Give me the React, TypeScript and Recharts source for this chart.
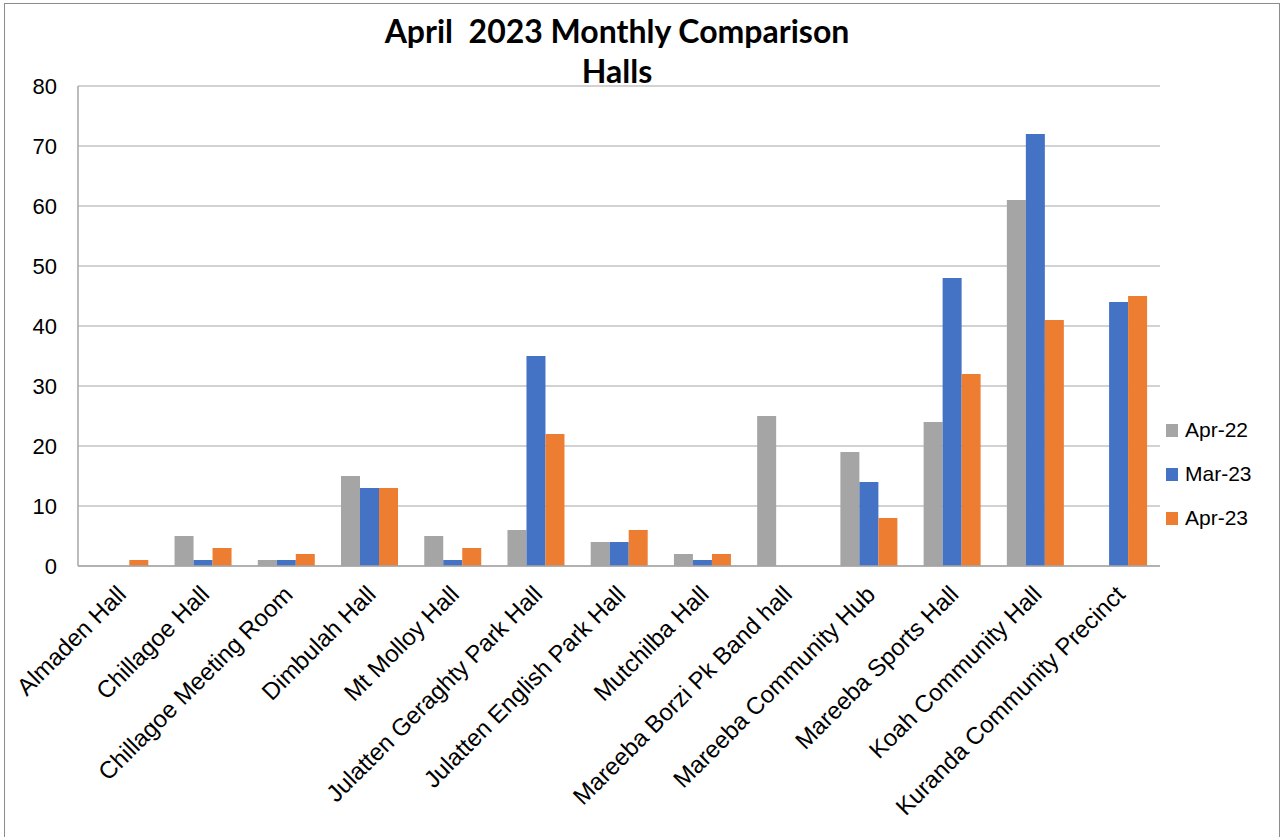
import {
  BarChart,
  Bar,
  XAxis,
  YAxis,
  CartesianGrid,
} from "recharts";

const halls = [
  "Almaden Hall",
  "Chillagoe Hall",
  "Chillagoe Meeting Room",
  "Dimbulah Hall",
  "Mt Molloy Hall",
  "Julatten Geraghty Park Hall",
  "Julatten English Park Hall",
  "Mutchilba Hall",
  "Mareeba Borzi Pk Band hall",
  "Mareeba Community Hub",
  "Mareeba Sports Hall",
  "Koah Community Hall",
  "Kuranda Community Precinct",
];

const apr22 = [0, 5, 1, 15, 5, 6, 4, 2, 25, 19, 24, 61, 0];
const mar23 = [0, 1, 1, 13, 1, 35, 4, 1, 0, 14, 48, 72, 44];
const apr23 = [1, 3, 2, 13, 3, 22, 6, 2, 0, 8, 32, 41, 45];

const yTicks = [0, 10, 20, 30, 40, 50, 60, 70, 80];

const series = [
  { key: "apr22", name: "Apr-22", color: "#A5A5A5" },
  { key: "mar23", name: "Mar-23", color: "#4472C4" },
  { key: "apr23", name: "Apr-23", color: "#ED7D31" },
];

const data = halls.map((hall, i) => ({
  hall,
  apr22: apr22[i],
  mar23: mar23[i],
  apr23: apr23[i],
}));

const FONT = "'Liberation Sans', Arial, sans-serif";

// rotated category label, right end sits just under the tick
const HallTick = ({ x, y, payload }: any) => (
  <g transform={`translate(${x + 8},${y + 22}) rotate(-45)`}>
    <text
      x={0}
      y={0}
      textAnchor="end"
      fontFamily={FONT}
      fontSize={24}
      fill="#000"
    >
      {payload.value}
    </text>
  </g>
);

export default function App() {
  return (
    <div
      style={{
        position: "absolute",
        top: 0,
        left: 0,
        width: 1283,
        height: 837,
        background: "#fff",
      }}
    >
      {/* frame */}
      <div
        style={{
          position: "absolute",
          left: 4,
          top: 3,
          width: 1274,
          height: 840,
          borderTop: "1px solid #8c8c8c",
          borderLeft: "1px solid #8c8c8c",
          borderRight: "1px solid #8c8c8c",
        }}
      />
      <div
        style={{
          position: "absolute",
          top: 11,
          left: 0,
          width: 1234,
          textAlign: "center",
          fontFamily: "Lato, sans-serif",
          fontWeight: 700,
          fontSize: 32,
          lineHeight: "40px",
          whiteSpace: "pre",
          color: "#000",
        }}
      >
        {"April  2023 Monthly Comparison\nHalls"}
      </div>
      <BarChart
        width={1283}
        height={837}
        data={data}
        margin={{ top: 86, right: 123, bottom: 21, left: 0 }}
        barCategoryGap="16%"
        barGap={0}
        style={{ position: "absolute", top: 0, left: 0 }}
      >
        <CartesianGrid vertical={false} stroke="#a6a6a6" strokeWidth={1.2} />
        <XAxis
          dataKey="hall"
          interval={0}
          height={250}
          tick={<HallTick />}
          tickLine={false}
          axisLine={{ stroke: "#a6a6a6", strokeWidth: 1.5 }}
        />
        <YAxis
          width={78}
          domain={[0, 80]}
          ticks={yTicks}
          tickLine={false}
          axisLine={{ stroke: "#a6a6a6", strokeWidth: 1.5 }}
          tickMargin={15}
          tick={{ fontFamily: FONT, fontSize: 22, fill: "#000" }}
        />
        {series.map((s) => (
          <Bar
            key={s.key}
            dataKey={s.key}
            name={s.name}
            fill={s.color}
            isAnimationActive={false}
          />
        ))}
      </BarChart>
      {/* legend */}
      <div
        style={{
          position: "absolute",
          left: 1166,
          top: 408,
          fontFamily: FONT,
          fontSize: 21,
          color: "#000",
        }}
      >
        {series.map((s) => (
          <div
            key={s.key}
            style={{ display: "flex", alignItems: "center", height: 44 }}
          >
            <span
              style={{
                width: 12,
                height: 13,
                background: s.color,
                marginRight: 7,
                display: "inline-block",
              }}
            />
            {s.name}
          </div>
        ))}
      </div>
    </div>
  );
}
